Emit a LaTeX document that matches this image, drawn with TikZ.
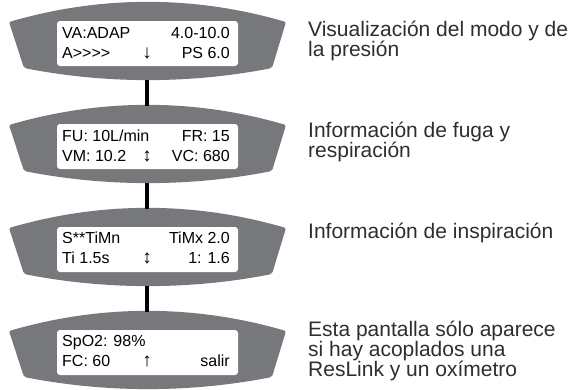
\documentclass[tikz,border=0pt]{standalone}
\usepackage{fontspec}
\setmainfont{Liberation Sans}[Ligatures=NoCommon]
\definecolor{lcdgray}{HTML}{77787B}
\definecolor{txtgray}{HTML}{2E2E2E}
\newcommand\lcdbody[1]{%
  \begin{scope}[shift={(0,#1)}]
    \fill[lcdgray, rounded corners=2] (9,20) .. controls (101,-6.7) and (194,-6.7) .. (286,20)
      -- (272,66) .. controls (190,82) and (106,82) .. (24,66) -- cycle;
  \end{scope}}
\begin{document}
\begin{tikzpicture}[x=1pt,y=-1pt,
  lcdtext/.style={font=\fontsize{16}{16}\selectfont, text=black, inner sep=0pt},
  lcdarrow/.style={font=\fontsize{19}{19}\selectfont, text=black, inner sep=0pt, anchor=base},
  desc/.style={font=\fontsize{21}{21}\selectfont, text=txtgray, inner sep=0pt, anchor=base west},
  screen/.style={fill=white, rounded corners=3, minimum width=181pt, minimum height=45pt, inner sep=0pt},
  conn/.style={line width=4pt, black}]
\useasboundingbox (0,0) rectangle (568,389);

% bodies
\lcdbody{2}
\lcdbody{105}
\lcdbody{208}
\lcdbody{311}

% screens
\node[screen] (s1) at (147.5,43.5) {};
\node[screen] (s2) at (147.5,146.5) {};
\node[screen] (s3) at (147.5,249.5) {};
\node[screen] (s4) at (147.5,352.5) {};

% connector ends
\coordinate (b1) at (147,80);
\coordinate (t2) at (147,106);
\coordinate (b2) at (147,183);
\coordinate (t3) at (147,209);
\coordinate (b3) at (147,286);
\coordinate (t4) at (147,312);
\draw[conn] (b1) -- (t2);
\draw[conn] (b2) -- (t3);
\draw[conn] (b3) -- (t4);

% screen 1
\node[lcdtext, anchor=base west] (l1a) at (62,38) {VA:ADAP};
\node[lcdtext, anchor=base east] (r1a) at (230,38) {4.0-10.0};
\node[lcdtext, anchor=base west] (l1b) at (62,58) {A{>}{>}{>}{>}};
\node[lcdarrow] (m1b) at (147,58) {↓};
\node[lcdtext, anchor=base east] (r1b) at (230,58) {PS 6.0};
% screen 2
\node[lcdtext, anchor=base west] (l2a) at (62,141) {FU: 10L/min};
\node[lcdtext, anchor=base east] (r2a) at (230,141) {FR: 15};
\node[lcdtext, anchor=base west] (l2b) at (62,161) {VM: 10.2};
\node[lcdarrow] (m2b) at (147,161) {↕};
\node[lcdtext, anchor=base east] (r2b) at (230,161) {VC: 680};
% screen 3
\node[lcdtext, anchor=base west] (l3a) at (62,243) {S**TiMn};
\node[lcdtext, anchor=base east] (r3a) at (230,243) {TiMx 2.0};
\node[lcdtext, anchor=base west] (l3b) at (62,263) {Ti 1.5s};
\node[lcdarrow] (m3b) at (147,263) {↕};
\node[lcdtext, anchor=base east] (r3b) at (230,263) {1: 1.6};
% screen 4
\node[lcdtext, anchor=base west] (l4a) at (62,346) {SpO2: 98\%};
\node[lcdtext, anchor=base west] (l4b) at (62,366) {FC: 60};
\node[lcdarrow] (m4b) at (147,366) {↑};
\node[lcdtext, anchor=base east] (r4b) at (230,366) {salir};

% descriptions
\node[desc] (d1a) at (308,36) {Visualización del modo y de};
\node[desc] (d1b) at (308,56) {la presión};
\node[desc] (d2a) at (308,137) {Información de fuga y};
\node[desc] (d2b) at (308,157) {respiración};
\node[desc] (d3a) at (308,238) {Información de inspiración};
\node[desc] (d4a) at (308,336) {Esta pantalla sólo aparece};
\node[desc] (d4b) at (308,356) {si hay acoplados una};
\node[desc] (d4c) at (308,376) {ResLink y un oxímetro};
\end{tikzpicture}
\end{document}
